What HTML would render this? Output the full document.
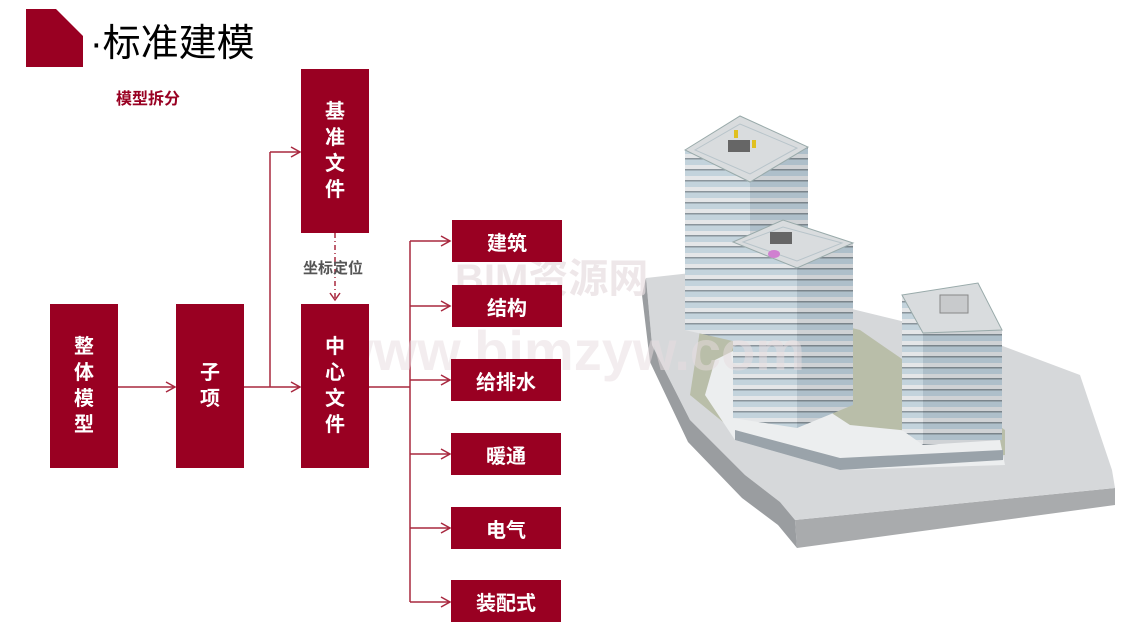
<!DOCTYPE html>
<html><head><meta charset="utf-8"><style>
html,body{margin:0;padding:0;background:#fff;}
body{width:1147px;height:636px;position:relative;overflow:hidden;font-family:"Liberation Sans","Noto Sans CJK SC",sans-serif;}
.b{position:absolute;background:#990022;color:#fff;font-weight:bold;font-size:20px;display:flex;align-items:center;justify-content:center;text-align:center;}
.v{line-height:26px;}
svg{position:absolute;left:0;top:0;}
</style></head><body>
<svg width="1147" height="636">
<defs>
<pattern id="st" width="8" height="11" patternUnits="userSpaceOnUse">
<rect width="8" height="11" fill="#c3d3dc"/><rect y="0" width="8" height="4" fill="#e4e6e8"/><rect y="4" width="8" height="1.5" fill="#8a949b"/>
</pattern>
<pattern id="st2" width="8" height="11" patternUnits="userSpaceOnUse">
<rect width="8" height="11" fill="#aebfca"/><rect y="0" width="8" height="4" fill="#cfd2d5"/><rect y="4" width="8" height="1.5" fill="#7a848b"/>
</pattern>
</defs>
<polygon points="26,9 56,9 83,36 83,67 26,67" fill="#990022"/>
<g stroke="#a8283f" stroke-width="1.5" fill="none">
<line x1="118" y1="387" x2="175" y2="387"/><polyline points="166,382 175,387 166,392"/>
<line x1="244" y1="387" x2="300" y2="387"/><polyline points="291,382 300,387 291,392"/>
<line x1="270" y1="387" x2="270" y2="152"/><line x1="270" y1="152" x2="300" y2="152"/><polyline points="291,147 300,152 291,157"/>
<line x1="335" y1="233" x2="335" y2="300" stroke-dasharray="5,3,1,3"/><polyline points="330,293 335,300 340,293"/>
<line x1="369" y1="387" x2="410" y2="387"/>
<line x1="410" y1="241" x2="410" y2="602"/>
<line x1="410" y1="241" x2="450" y2="241"/><polyline points="441,236 450,241 441,246"/>
<line x1="410" y1="306" x2="450" y2="306"/><polyline points="441,301 450,306 441,311"/>
<line x1="410" y1="380" x2="450" y2="380"/><polyline points="441,375 450,380 441,385"/>
<line x1="410" y1="454" x2="450" y2="454"/><polyline points="441,449 450,454 441,459"/>
<line x1="410" y1="528" x2="450" y2="528"/><polyline points="441,523 450,528 441,533"/>
<line x1="410" y1="602" x2="450" y2="602"/><polyline points="441,597 450,602 441,607"/>
</g>
<!-- building -->
<polygon points="795,520 1115,488 1115,505 797,548" fill="#a9abad"/>
<polygon points="646,278 700,272 1000,345 1080,375 1112,470 1115,488 795,520 780,502 745,475 690,420 652,345" fill="#d6d8da"/>
<polygon points="646,278 652,345 690,420 745,475 780,502 795,520 797,548 778,525 742,498 688,442 650,362 642,295" fill="#9a9da0"/>
<polygon points="700,330 740,300 860,330 1005,430 1005,455 850,465 745,440 690,395" fill="#b9bea9"/>
<polygon points="715,360 735,350 850,425 1000,440 1005,465 840,470 735,440 705,395" fill="#eceeef"/>
<polygon points="735,430 840,458 1003,450 1003,460 840,470 735,440" fill="#9aa3aa"/>
<polygon points="685,150 750,182 750,345 685,330" fill="url(#st)"/>
<polygon points="750,182 808,147 808,300 750,345" fill="url(#st2)"/>
<polygon points="685,150 740,116 808,147 750,182" fill="#d9dcde" stroke="#9aa"/>
<polygon points="695,150 740,124 797,148 750,174" fill="none" stroke="#b8c4ca"/>
<polygon points="733,242 797,268 797,428 733,418" fill="url(#st)"/>
<polygon points="797,268 853,243 853,405 797,428" fill="url(#st2)"/>
<polygon points="733,242 783,220 853,243 797,268" fill="#d9dcde" stroke="#9aa"/>
<polygon points="743,242 783,227 842,243 797,261" fill="none" stroke="#b8c4ca"/>
<polygon points="902,295 923,333 923,445 902,430" fill="url(#st)"/>
<polygon points="923,333 1002,330 1002,440 923,445" fill="url(#st2)"/>
<polygon points="902,295 978,283 1002,330 923,333" fill="#d9dcde" stroke="#9aa"/>
<rect x="728" y="140" width="22" height="12" fill="#666"/><rect x="770" y="232" width="22" height="12" fill="#666"/>
<rect x="940" y="295" width="28" height="18" fill="#c8cacc" stroke="#888"/>
<ellipse cx="774" cy="254" rx="6" ry="4" fill="#d080d0"/>
<rect x="734" y="130" width="4" height="8" fill="#e0c020"/><rect x="752" y="140" width="4" height="8" fill="#e0c020"/>
<text x="455" y="292" font-size="40" font-weight="bold" fill="#e8dde0" opacity="0.7" font-family="Liberation Sans, Noto Sans CJK SC, sans-serif">BIM资源网</text>
<text x="330" y="370" font-size="56" font-weight="bold" fill="#e8dde0" opacity="0.5" font-family="Liberation Sans, sans-serif">www.bimzyw.com</text>
</svg>
<div style="position:absolute;left:90px;top:12px;font-size:38px;color:#000;">·标准建模</div>
<div style="position:absolute;left:116px;top:85px;font-size:16px;font-weight:bold;color:#990022;">模型拆分</div>
<div style="position:absolute;left:303px;top:257px;font-size:15px;font-weight:bold;color:#555;">坐标定位</div>
<div class="b v" style="left:50px;top:304px;width:68px;height:164px;">整<br>体<br>模<br>型</div>
<div class="b v" style="left:176px;top:304px;width:68px;height:164px;">子<br>项</div>
<div class="b v" style="left:301px;top:69px;width:68px;height:164px;">基<br>准<br>文<br>件</div>
<div class="b v" style="left:301px;top:304px;width:68px;height:164px;">中<br>心<br>文<br>件</div>
<div class="b" style="left:452px;top:220px;width:110px;height:42px;">建筑</div>
<div class="b" style="left:452px;top:285px;width:110px;height:42px;">结构</div>
<div class="b" style="left:451px;top:359px;width:110px;height:42px;">给排水</div>
<div class="b" style="left:451px;top:433px;width:110px;height:42px;">暖通</div>
<div class="b" style="left:451px;top:507px;width:110px;height:42px;">电气</div>
<div class="b" style="left:451px;top:580px;width:110px;height:42px;">装配式</div>
</body></html>
